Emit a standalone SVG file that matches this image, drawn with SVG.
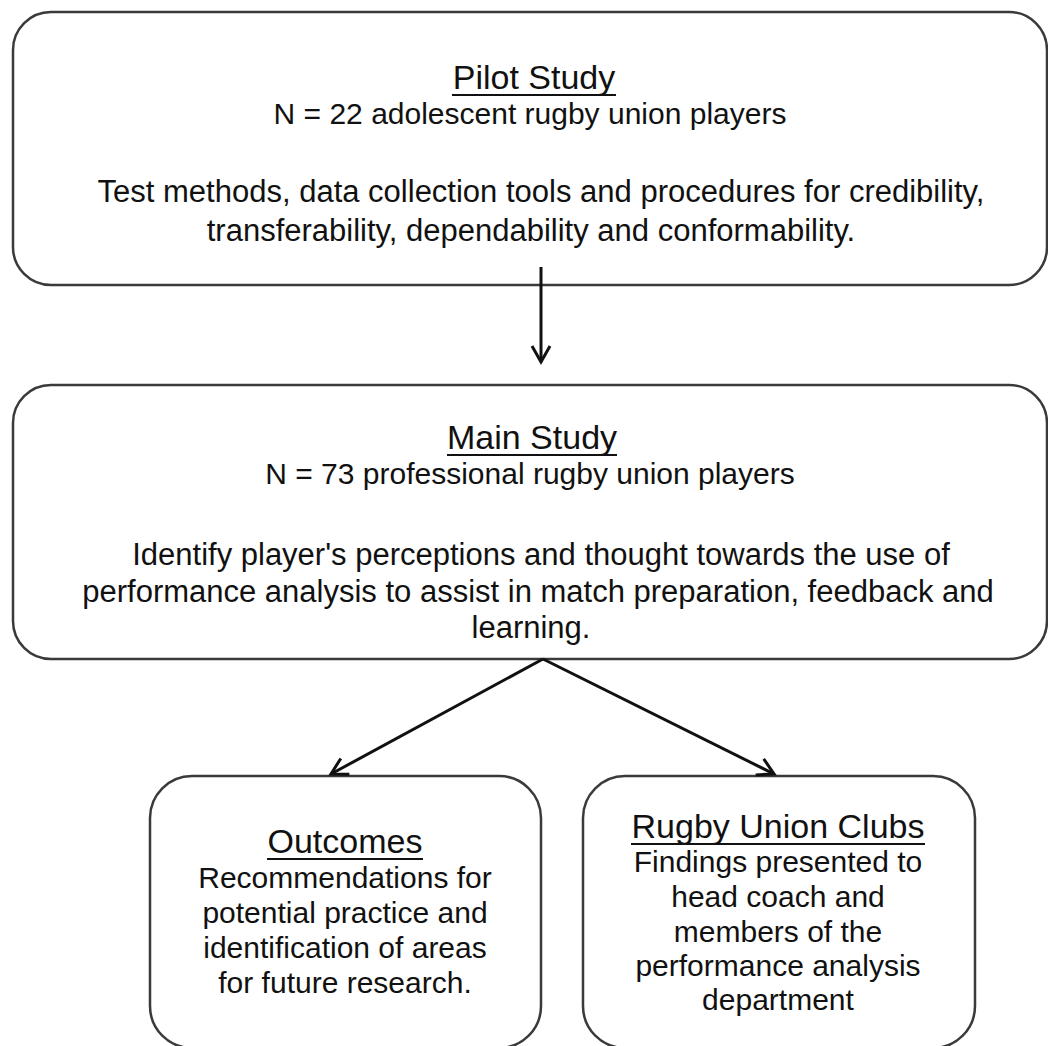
<svg xmlns="http://www.w3.org/2000/svg" width="1048" height="1046" viewBox="0 0 1048 1046">
<defs>
<style>
.box{fill:#ffffff;stroke:#3a3a3a;stroke-width:2.5}
.t{font-family:"Liberation Sans",Arial,sans-serif;fill:#111;text-anchor:middle}
.title{font-size:34px}
.body{font-size:30px}
.para{font-size:31px}
.ul{stroke:#111;stroke-width:2}
.conn{stroke:#111;stroke-width:3;fill:none}
</style>
<marker id="arr" markerUnits="userSpaceOnUse" markerWidth="24" markerHeight="24" viewBox="-20 -12 24 24" refX="0" refY="0" orient="auto">
<path d="M -16 -9 L 0 0 L -16 9" fill="none" stroke="#111" stroke-width="3"/>
</marker>
</defs>
<rect width="1048" height="1046" fill="#ffffff"/>
<g id="pilot">
<rect class="box" x="13" y="12" width="1034" height="273" rx="38"/>
<text class="t title" x="534" y="89">Pilot Study</text>
<line class="ul" x1="452" y1="95" x2="616" y2="95"/>
<text class="t body" x="530" y="124">N = 22 adolescent rugby union players</text>
<text class="t para" x="541" y="202">Test methods, data collection tools and procedures for credibility,</text>
<text class="t para" x="531" y="241">transferability, dependability and conformability.</text>
</g>
<g id="main">
<rect class="box" x="13" y="385" width="1034" height="274" rx="38"/>
<text class="t title" x="532" y="449">Main Study</text>
<line class="ul" x1="447" y1="455" x2="617" y2="455"/>
<text class="t body" x="530" y="484">N = 73 professional rugby union players</text>
<text class="t para" x="541" y="565">Identify player's perceptions and thought towards the use of</text>
<text class="t para" x="538" y="602">performance analysis to assist in match preparation, feedback and</text>
<text class="t para" x="531" y="638">learning.</text>
</g>
<g id="outcomes">
<rect class="box" x="150" y="776" width="391" height="272" rx="42"/>
<text class="t title" x="345" y="853">Outcomes</text>
<line class="ul" x1="267" y1="859" x2="423" y2="859"/>
<text class="t body" x="345" y="888">Recommendations for</text>
<text class="t body" x="345" y="923">potential practice and</text>
<text class="t body" x="345" y="958">identification of areas</text>
<text class="t body" x="345" y="993">for future research.</text>
</g>
<g id="clubs">
<rect class="box" x="583" y="776" width="392" height="272" rx="42"/>
<text class="t title" x="778" y="838">Rugby Union Clubs</text>
<line class="ul" x1="631" y1="844" x2="925" y2="844"/>
<text class="t body" x="778" y="872">Findings presented to</text>
<text class="t body" x="778" y="907">head coach and</text>
<text class="t body" x="778" y="942">members of the</text>
<text class="t body" x="778" y="976">performance analysis</text>
<text class="t body" x="778" y="1010">department</text>
</g>
<g id="connectors">
<line class="conn" x1="541" y1="267" x2="541" y2="362" marker-end="url(#arr)"/>
<line class="conn" x1="543" y1="659" x2="331" y2="774" marker-end="url(#arr)"/>
<line class="conn" x1="543" y1="659" x2="774" y2="774" marker-end="url(#arr)"/>
</g>
</svg>
